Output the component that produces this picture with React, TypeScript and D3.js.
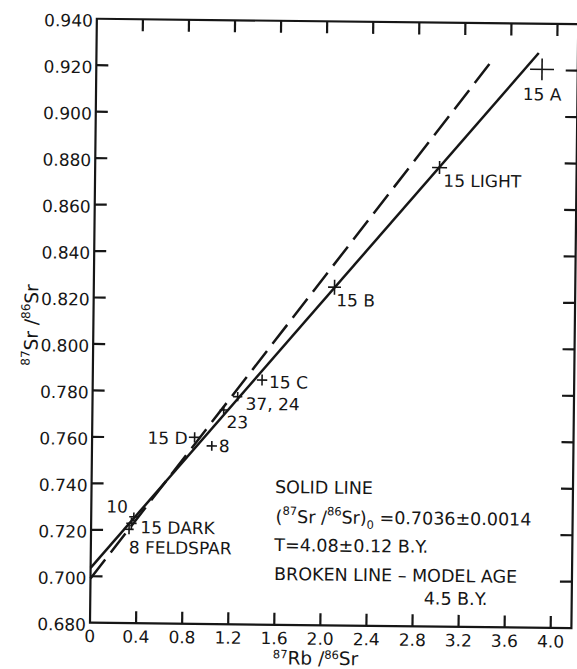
import React from "react";
import * as d3 from "d3";

// ---- data ----
const xTickValues = [0, 0.4, 0.8, 1.2, 1.6, 2.0, 2.4, 2.8, 3.2, 3.6, 4.0];
const xTickLabels = ["0", "0.4", "0.8", "1.2", "1.6", "2.0", "2.4", "2.8", "3.2", "3.6", "4.0"];
const yTickValues = [0.68, 0.7, 0.72, 0.74, 0.76, 0.78, 0.8, 0.82, 0.84, 0.86, 0.88, 0.9, 0.92, 0.94];
const yTickLabels = ["0.680", "0.700", "0.720", "0.740", "0.760", "0.780", "0.800", "0.820", "0.840", "0.860", "0.880", "0.900", "0.920", "0.940"];

const sampleNames = ["15 A", "15 LIGHT", "15 B", "15 C", "37, 24", "23", "8", "15 D", "10", "15 DARK", "8 FELDSPAR"];
const rbSr = [3.87, 2.99, 2.09, 1.47, 1.26, 1.14, 1.04, 0.89, 0.37, 0.35, 0.33];
const srSr = [0.9204, 0.8776, 0.8256, 0.7853, 0.778, 0.7722, 0.7567, 0.7603, 0.7258, 0.723, 0.7204];
const errRb = [0.104, 0.065, 0.056, 0.045, 0.04, 0.035, 0.045, 0.05, 0.04, 0.045, 0.04];
const errSr = [0.0047, 0.0028, 0.0032, 0.0024, 0.002, 0.0017, 0.0021, 0.0022, 0.0018, 0.0025, 0.0021];

const solidLine: [number, number][] = [[0, 0.7036], [3.84, 0.9274]];
const dashedLine: [number, number][] = [[0, 0.699], [3.46, 0.9255]];

// label placement (layout, px)
const labelLayout: { dx: number; dy: number; anchor: string }[] = [
  { dx: -19, dy: 31, anchor: "start" },
  { dx: 4, dy: 19, anchor: "start" },
  { dx: 2, dy: 19, anchor: "start" },
  { dx: 7, dy: 8, anchor: "start" },
  { dx: 8, dy: 13, anchor: "start" },
  { dx: 3, dy: 18, anchor: "start" },
  { dx: 7, dy: 6, anchor: "start" },
  { dx: -7, dy: 7, anchor: "end" },
  { dx: -6, dy: -4, anchor: "end" },
  { dx: 9, dy: 10, anchor: "start" },
  { dx: 0, dy: 24, anchor: "start" },
];

const W = 577;
const H = 669;
const X0 = 90;
const X1 = 550.7;
const Y0 = 622.7;
const Y1 = 18.7;
const ROT = 0.65;
const FONT = "'DejaVu Sans', sans-serif";
const INK = "#161616";

export default function App() {
  const x = d3.scaleLinear().domain([0, 4]).range([X0, X1]);
  const y = d3.scaleLinear().domain([0.68, 0.94]).range([Y0, Y1]);
  const xRight = x(4.18);
  const line = d3
    .line<[number, number]>()
    .x((d) => x(d[0]))
    .y((d) => y(d[1]));
  const tick = 12;

  const annX = x(1.593);
  const annY = y(0.7367);

  return (
    <svg
      width={W}
      height={H}
      style={{ position: "absolute", left: 0, top: 0, background: "#fff" }}
      fontFamily={FONT}
    >
      <rect x={0} y={0} width={W} height={H} fill="#fff" />
      <g transform={`rotate(${ROT}, ${X0}, ${Y0})`}>
        {/* frame */}
        <rect
          x={X0}
          y={Y1}
          width={xRight - X0}
          height={Y0 - Y1}
          fill="none"
          stroke={INK}
          strokeWidth={2.2}
        />
        {/* x ticks bottom & top */}
        {xTickValues.slice(1).map((v, i) => (
          <g key={"xt" + i}>
            <line x1={x(v)} x2={x(v)} y1={Y0} y2={Y0 - tick} stroke={INK} strokeWidth={2.2} />
            <line x1={x(v)} x2={x(v)} y1={Y1} y2={Y1 + tick} stroke={INK} strokeWidth={2.2} />
          </g>
        ))}
        {xTickValues.map((v, i) => (
          <text
            key={"xl" + i}
            x={x(v)}
            y={Y0 + 19.5}
            textAnchor="middle"
            fontSize={17}
            fill={INK}
          >
            {xTickLabels[i]}
          </text>
        ))}
        {/* y ticks left & right */}
        {yTickValues.slice(1, -1).map((v, i) => (
          <g key={"yt" + i}>
            <line x1={X0} x2={X0 + tick} y1={y(v)} y2={y(v)} stroke={INK} strokeWidth={2.2} />
            <line x1={xRight} x2={xRight - tick} y1={y(v)} y2={y(v)} stroke={INK} strokeWidth={2.2} />
          </g>
        ))}
        {yTickValues.map((v, i) => (
          <text
            key={"yl" + i}
            x={X0 - 4}
            y={y(v) + 8}
            textAnchor="end"
            fontSize={17}
            fill={INK}
          >
            {yTickLabels[i]}
          </text>
        ))}

        {/* axis titles */}
        <text x={x(1.6) - 1} y={Y0 + 39.5} fontSize={18.5} fill={INK}>
          <tspan fontSize={11.5} dy={-6}>87</tspan>
          <tspan dy={6}>Rb /</tspan>
          <tspan fontSize={11.5} dy={-6}>86</tspan>
          <tspan dy={6}>Sr</tspan>
        </text>
        <text
          transform={`translate(${X0 - 55.5}, ${(Y0 + Y1) / 2 + 5}) rotate(-90)`}
          textAnchor="middle"
          fontSize={18.5}
          fill={INK}
        >
          <tspan fontSize={12} dy={-8}>87</tspan>
          <tspan dy={8}>Sr /</tspan>
          <tspan fontSize={12} dy={-8}>86</tspan>
          <tspan dy={8}>Sr</tspan>
        </text>

        {/* isochron lines */}
        <path d={line(dashedLine) || ""} fill="none" stroke={INK} strokeWidth={2.5} strokeDasharray="24 9" />
        <path d={line(solidLine) || ""} fill="none" stroke={INK} strokeWidth={2.5} />

        {/* samples */}
        {sampleNames.map((name, i) => {
          const cx = x(rbSr[i]);
          const cy = y(srSr[i]);
          const hx = x(rbSr[i] + errRb[i]) - cx;
          const hy = cy - y(srSr[i] + errSr[i]);
          const L = labelLayout[i];
          return (
            <g key={"s" + i}>
              <line x1={cx - hx} x2={cx + hx} y1={cy} y2={cy} stroke={INK} strokeWidth={1.6} />
              <line x1={cx} x2={cx} y1={cy - hy} y2={cy + hy} stroke={INK} strokeWidth={1.6} />
              <text
                x={cx + L.dx}
                y={cy + L.dy}
                textAnchor={L.anchor as any}
                fontSize={17}
                fill={INK}
              >
                {name}
              </text>
            </g>
          );
        })}

        {/* annotation block */}
        <g fontSize={17.5} fill={INK}>
          <text x={annX} y={annY}>SOLID LINE</text>
          <text x={annX + 1} y={annY + 29.7}>
            <tspan>(</tspan>
            <tspan fontSize={11.5} dy={-8}>87</tspan>
            <tspan dy={8}>Sr /</tspan>
            <tspan fontSize={11.5} dy={-8}>86</tspan>
            <tspan dy={8}>Sr)</tspan>
            <tspan fontSize={11.5} dy={5}>0</tspan>
            <tspan dy={-5}> =0.7036±0.0014</tspan>
          </text>
          <text x={annX} y={annY + 58}>T=4.08±0.12 B.Y.</text>
          <text x={annX} y={annY + 87}>BROKEN LINE – MODEL AGE</text>
          <text x={annX + 150} y={annY + 109.7}>4.5 B.Y.</text>
        </g>
      </g>
    </svg>
  );
}
